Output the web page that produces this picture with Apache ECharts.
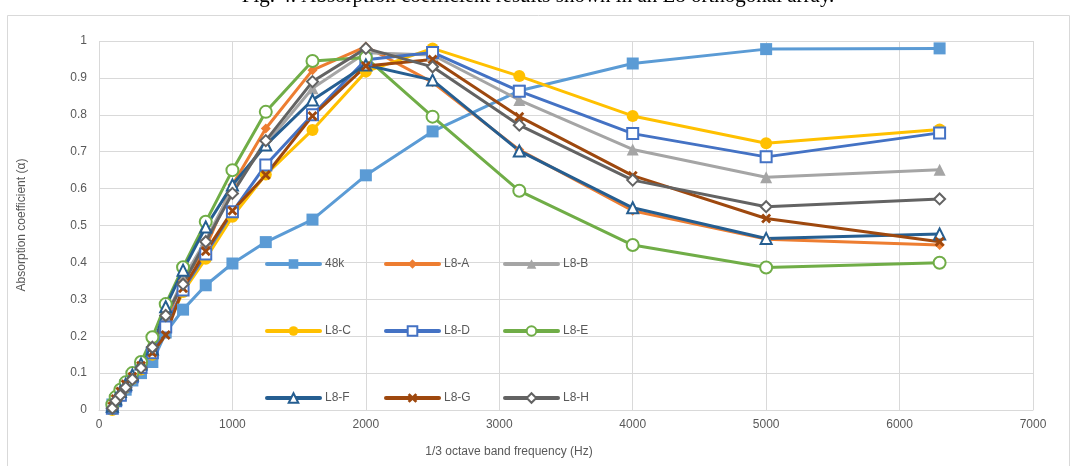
<!DOCTYPE html>
<html>
<head>
<meta charset="utf-8">
<script src="https://cdn.jsdelivr.net/npm/echarts@6/dist/echarts.min.js"></script>
<style>
  html, body { margin: 0; padding: 0; background: #fff; }
  #chart { width: 1071px; height: 466px; }
</style>
</head>
<body>
<div id="chart"></div>
<script>
// 1/3 octave band centre frequencies (Hz)
const freqs = [100, 125, 160, 200, 250, 315, 400, 500, 630, 800, 1000, 1250, 1600, 2000, 2500, 3150, 4000, 5000, 6300];

// Absorption coefficients per sample
const s48k = [0.015, 0.025, 0.04, 0.055, 0.08, 0.10, 0.13, 0.21, 0.272, 0.338, 0.397, 0.455, 0.516, 0.636, 0.755, 0.865, 0.939, 0.978, 0.98];
const sL8A = [0.01, 0.03, 0.045, 0.07, 0.09, 0.12, 0.16, 0.24, 0.35, 0.44, 0.61, 0.763, 0.921, 0.985, 0.888, 0.705, 0.54, 0.463, 0.447];
const sL8B = [0.01, 0.03, 0.045, 0.07, 0.09, 0.12, 0.16, 0.25, 0.355, 0.46, 0.60, 0.72, 0.872, 0.968, 0.962, 0.84, 0.706, 0.631, 0.651];
const sL8C = [0.0, 0.02, 0.04, 0.06, 0.085, 0.11, 0.15, 0.22, 0.32, 0.41, 0.524, 0.638, 0.759, 0.917, 0.98, 0.905, 0.797, 0.723, 0.76];
const sL8D = [0.005, 0.025, 0.04, 0.065, 0.09, 0.115, 0.155, 0.225, 0.325, 0.423, 0.537, 0.664, 0.80, 0.949, 0.969, 0.864, 0.749, 0.686, 0.751];
const sL8E = [0.015, 0.035, 0.055, 0.075, 0.10, 0.13, 0.197, 0.287, 0.387, 0.51, 0.65, 0.808, 0.946, 0.955, 0.795, 0.594, 0.447, 0.386, 0.399];
const sL8F = [0.01, 0.03, 0.05, 0.07, 0.095, 0.125, 0.165, 0.28, 0.379, 0.496, 0.61, 0.718, 0.84, 0.935, 0.894, 0.702, 0.548, 0.465, 0.477];
const sL8G = [0.01, 0.03, 0.05, 0.07, 0.09, 0.12, 0.155, 0.203, 0.33, 0.43, 0.54, 0.637, 0.797, 0.932, 0.95, 0.795, 0.635, 0.519, 0.456];
const sL8H = [0.005, 0.025, 0.04, 0.061, 0.083, 0.114, 0.17, 0.256, 0.341, 0.456, 0.587, 0.73, 0.89, 0.98, 0.93, 0.772, 0.623, 0.551, 0.572];

const seriesNames = ['48k', 'L8-A', 'L8-B', 'L8-C', 'L8-D', 'L8-E', 'L8-F', 'L8-G', 'L8-H'];
const seriesValues = [s48k, sL8A, sL8B, sL8C, sL8D, sL8E, sL8F, sL8G, sL8H];

const titleText = 'Fig. 4. Absorption coefficient results shown in an L8 orthogonal array.';
const xTitle = '1/3 octave band frequency (Hz)';
const yTitle = 'Absorption coefficient (\u03b1)';

// Cross marker drawn as a filled polygon
const CROSS = 'path://M2,0 L5,3 L8,0 L10,2 L7,5 L10,8 L8,10 L5,7 L2,10 L0,8 L3,5 L0,2 Z';

const styles = [
  { color: '#5B9BD5', symbol: 'rect',     size: 12, hollow: false },
  { color: '#ED7D31', symbol: 'diamond',  size: 10, hollow: false },
  { color: '#A5A5A5', symbol: 'triangle', size: 12, hollow: false },
  { color: '#FFC000', symbol: 'circle',   size: 12, hollow: false },
  { color: '#4472C4', symbol: 'rect',     size: 11, hollow: true },
  { color: '#70AD47', symbol: 'circle',   size: 12, hollow: true },
  { color: '#255E91', symbol: 'triangle', size: 11, hollow: true },
  { color: '#9E480E', symbol: CROSS,      size: 10, hollow: false },
  { color: '#636363', symbol: 'diamond',  size: 11, hollow: true }
];

const FONT = '"Liberation Sans", Arial, sans-serif';
const LABEL = '#595959';

const series = seriesNames.map((name, i) => {
  const st = styles[i];
  return {
    name: name,
    type: 'line',
    data: freqs.map((f, k) => [f, seriesValues[i][k]]),
    symbol: st.symbol,
    symbolSize: st.size,
    showAllSymbol: true,
    lineStyle: { color: st.color, width: 3, join: 'round', cap: 'round' },
    itemStyle: st.hollow
      ? { color: '#ffffff', borderColor: st.color, borderWidth: 2 }
      : { color: st.color, borderColor: st.color, borderWidth: 0 },
    emphasis: { disabled: true },
    animation: false
  };
});

// Legend: 3 x 3 grid placed inside the plot area
const legendCols = [265, 384, 503];
const legendRows = [258, 325, 392];
const legends = seriesNames.map((name, i) => ({
  left: legendCols[i % 3],
  top: legendRows[Math.floor(i / 3)],
  data: [name],
  itemWidth: 53,
  itemHeight: 12,
  itemGap: 5,
  padding: 0,
  lineStyle: { width: 4 },
  textStyle: { color: LABEL, fontSize: 12, fontFamily: FONT, padding: [0, 0, 0, 0] },
  selectedMode: false
}));

const chart = echarts.init(document.getElementById('chart'), null, { renderer: 'canvas' });
chart.setOption({
  animation: false,
  backgroundColor: '#ffffff',
  grid: { left: 99, right: 38, top: 41, bottom: 56, containLabel: false },
  legend: legends,
  xAxis: {
    type: 'value',
    min: 0, max: 7000, interval: 1000,
    axisLine: { show: true, lineStyle: { color: '#d9d9d9', width: 1 } },
    axisTick: { show: false },
    splitLine: { show: true, lineStyle: { color: '#d9d9d9', width: 1 } },
    axisLabel: { color: LABEL, fontSize: 12, fontFamily: FONT, margin: 9, formatter: v => String(v) }
  },
  yAxis: {
    type: 'value',
    min: 0, max: 1, interval: 0.1,
    axisLine: { show: false },
    axisTick: { show: false },
    splitLine: { show: true, lineStyle: { color: '#d9d9d9', width: 1 } },
    axisLabel: { color: LABEL, fontSize: 12, fontFamily: FONT, margin: 12 }
  },
  graphic: [
    {
      type: 'rect', silent: true, z: -10,
      shape: { x: 7.5, y: 15.5, width: 1062, height: 460 },
      style: { fill: 'none', stroke: '#d9d9d9', lineWidth: 1 }
    },
    {
      type: 'text', silent: true,
      x: 538, y: -4,
      style: {
        text: titleText, fill: '#000000',
        font: '21px "Liberation Serif", "Times New Roman", serif',
        align: 'center', verticalAlign: 'middle'
      }
    },
    {
      type: 'text', silent: true,
      x: 509, y: 452,
      style: {
        text: xTitle, fill: LABEL,
        font: '12px ' + FONT,
        align: 'center', verticalAlign: 'middle'
      }
    },
    {
      type: 'text', silent: true,
      x: 22, y: 225, rotation: Math.PI / 2,
      style: {
        text: yTitle, fill: LABEL,
        font: '12px ' + FONT,
        align: 'center', verticalAlign: 'middle'
      }
    }
  ],
  series: series
});
</script>
</body>
</html>
